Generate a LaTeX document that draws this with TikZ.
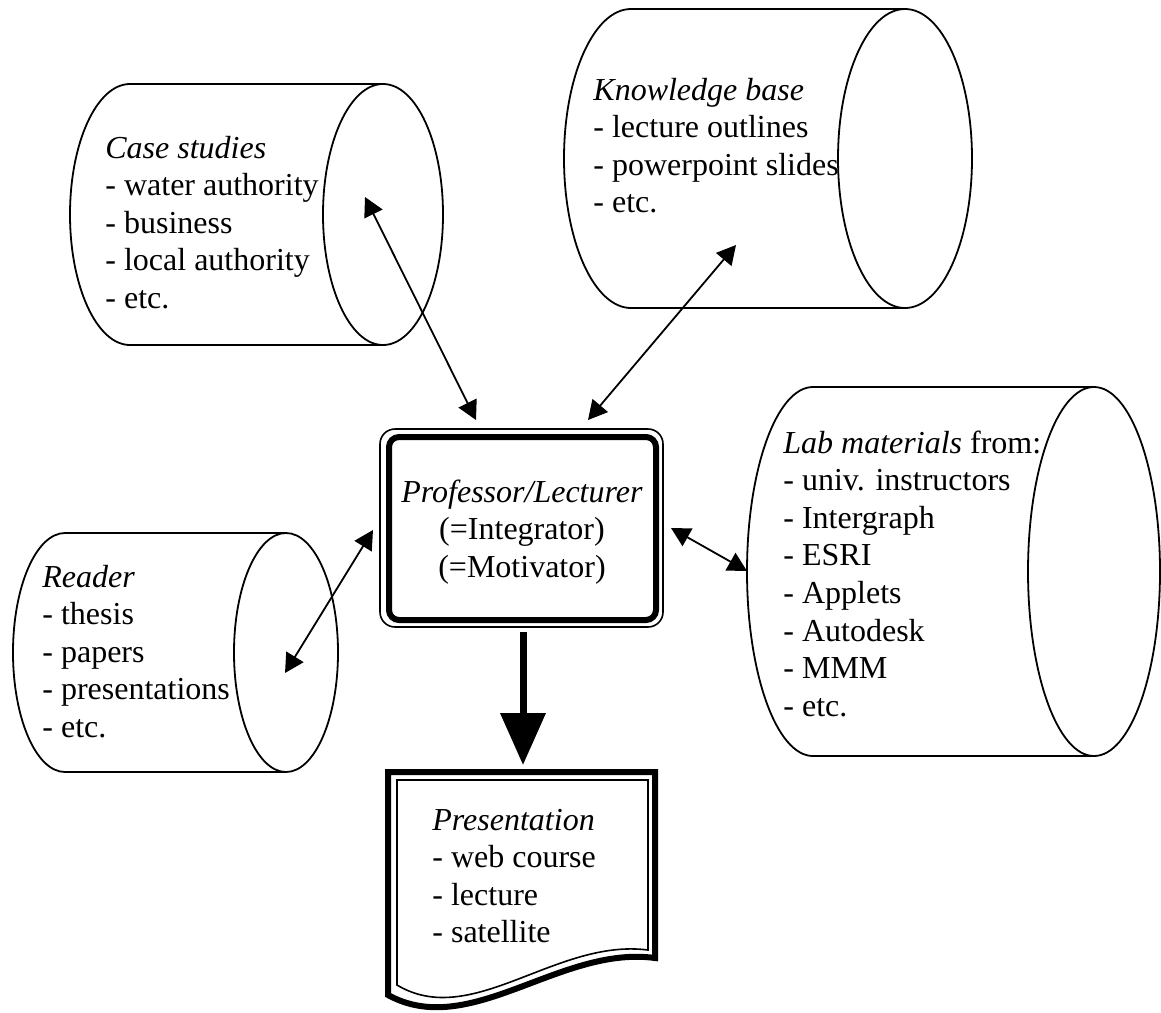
\documentclass[tikz,border=0pt]{standalone}
\usepackage{fontspec}
\setmainfont{Liberation Serif}
\usetikzlibrary{arrows.meta}
\begin{document}
\begin{tikzpicture}[x=0.5pt,y=0.5pt,
  outline/.style={line width=0.9pt},
  link/.style={line width=0.9pt,{Triangle[length=9.5pt,width=10pt]}-{Triangle[length=9.5pt,width=10pt]}},
  bigarrow/.style={line width=3.5pt,-{Triangle[length=26pt,width=22pt]}},
  txt/.style={inner sep=0pt,font=\fontsize{16}{18.8}\selectfont},
]
\useasboundingbox (0,0) rectangle (1161,-1012);

% Case studies cylinder
\draw[outline] (383,-84) -- (130,-84) arc[start angle=90,end angle=270,x radius=60,y radius=130.5] -- (383,-345);
\draw[outline] (383,-214.5) ellipse[x radius=60,y radius=130.5];
% Knowledge base cylinder
\draw[outline] (905,-9) -- (631,-9) arc[start angle=90,end angle=270,x radius=67,y radius=149.5] -- (905,-308);
\draw[outline] (905,-158.5) ellipse[x radius=67,y radius=149.5];
% Lab materials cylinder
\draw[outline] (1094,-387) -- (813,-387) arc[start angle=90,end angle=270,x radius=66,y radius=184.5] -- (1094,-756);
\draw[outline] (1094,-571.5) ellipse[x radius=66,y radius=184.5];
% Reader cylinder
\draw[outline] (286,-533) -- (65,-533) arc[start angle=90,end angle=270,x radius=52,y radius=119.5] -- (286,-772);
\draw[outline] (286,-652.5) ellipse[x radius=52,y radius=119.5];

% Professor box
\draw[line width=0.8pt,rounded corners=7.5pt] (380,-429) rectangle (663,-627);
\draw[line width=3pt,rounded corners=5pt] (389,-437) rectangle (656,-620);

% Presentation document
\draw[line width=3pt,line join=miter] (388,-995) -- (388,-772) -- (655,-772) -- (655,-958)
  .. controls (560,-945) and (470,-1040) .. (388,-995) -- cycle;
\draw[line width=0.8pt] (397,-985) -- (397,-780) -- (648,-780) -- (648,-950)
  .. controls (556,-938) and (472,-1030) .. (397,-985) -- cycle;

% texts
\node[txt,anchor=base west] (case) at (105,-158) {\begin{tabular}[t]{@{}l@{}}\textit{Case studies}\\- water authority\\- business\\- local authority\\- etc.\end{tabular}};
\node[txt,anchor=base west] (know) at (593,-100) {\begin{tabular}[t]{@{}l@{}}\textit{Knowledge base}\\- lecture outlines\\- powerpoint slides\\- etc.\end{tabular}};
\node[txt,anchor=base west] (lab) at (783,-453) {\begin{tabular}[t]{@{}l@{}}\textit{Lab materials} from:\\- univ. instructors\\- Intergraph\\- ESRI\\- Applets\\- Autodesk\\- MMM\\- etc.\end{tabular}};
\node[txt,anchor=base west] (reader) at (42,-587) {\begin{tabular}[t]{@{}l@{}}\textit{Reader}\\- thesis\\- papers\\- presentations\\- etc.\end{tabular}};
\node[txt,anchor=base] (prof) at (522,-502) {\begin{tabular}[t]{@{}c@{}}\textit{Professor/Lecturer}\\(=Integrator)\\(=Motivator)\end{tabular}};
\node[txt,anchor=base west] (pres) at (432,-830) {\begin{tabular}[t]{@{}l@{}}\textit{Presentation}\\- web course\\- lecture\\- satellite\end{tabular}};

% connector end points
\coordinate (csEnd) at (365,-197);
\coordinate (boxA) at (476,-420);
\coordinate (kbEnd) at (736,-245);
\coordinate (boxB) at (588,-420);
\coordinate (labEnd) at (747,-571);
\coordinate (boxC) at (671,-528);
\coordinate (rdEnd) at (285,-673);
\coordinate (boxD) at (373,-530);
\coordinate (boxS) at (523,-632);
\coordinate (docT) at (523,-765);

\draw[link] (csEnd) -- (boxA);
\draw[link] (kbEnd) -- (boxB);
\draw[link] (labEnd) -- (boxC);
\draw[link] (rdEnd) -- (boxD);
\draw[bigarrow] (boxS) -- (docT);
\end{tikzpicture}
\end{document}
